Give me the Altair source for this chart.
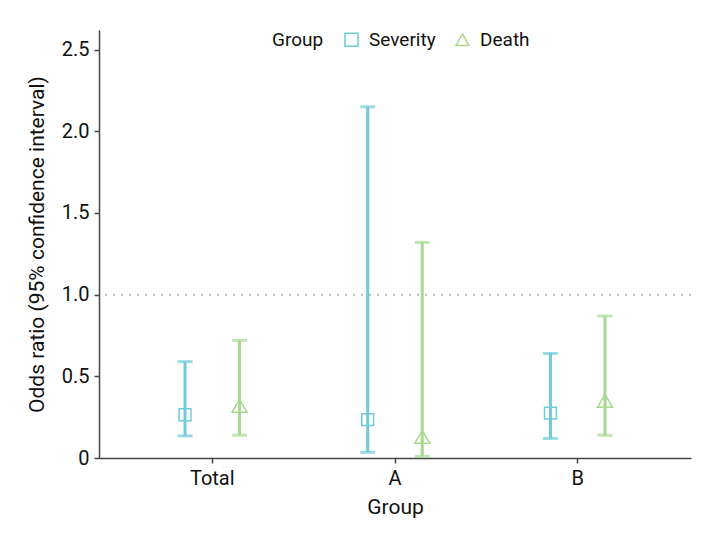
import altair as alt
import pandas as pd

categories = ["Total", "Total", "A", "A", "B", "B"]
groups = ["Severity", "Death", "Severity", "Death", "Severity", "Death"]
odds = [0.265, 0.32, 0.235, 0.13, 0.275, 0.35]
lower = [0.135, 0.14, 0.035, 0.01, 0.12, 0.14]
upper = [0.59, 0.72, 2.15, 1.32, 0.64, 0.87]

df = pd.DataFrame({"cat": categories, "Group": groups, "or": odds, "lo": lower, "hi": upper})
ref = pd.DataFrame({"v": [1.0]})

FONT = "Roboto"
colors = ["#6FCBD6", "#A8D98F"]
order = ["Severity", "Death"]

x = alt.X("cat:N", sort=["Total", "A", "B"], title="Group",
          scale=alt.Scale(paddingInner=0.2, paddingOuter=0.22),
          axis=alt.Axis(labelAngle=0))
xo = alt.XOffset("Group:N", sort=order, scale=alt.Scale(paddingInner=0, paddingOuter=0.34))
legend = alt.Legend(orient="none", legendX=173, legendY=0, direction="horizontal",
                    titleOrient="left", title="Group", symbolStrokeWidth=1.5,
                    symbolSize=170, symbolFillColor="transparent", labelFontSize=19, titleFontSize=19,
                    titleFontWeight="normal", labelFont=FONT, titleFont=FONT,
                    columnPadding=16, titlePadding=18, labelOffset=8, labelColor="#111", titleColor="#111")
cscale = alt.Scale(domain=order, range=colors)
col = alt.Color("Group:N", sort=order, scale=cscale, legend=legend)
col_nl = alt.Color("Group:N", sort=order, scale=cscale, legend=None)
shp = alt.Shape("Group:N", sort=order, scale=alt.Scale(domain=order, range=["square", "triangle-up"]), legend=legend)
sz = alt.Size("Group:N", sort=order, scale=alt.Scale(domain=order, range=[140, 225]), legend=None)
yscale = alt.Scale(domain=[0, 2.62], nice=False, zero=True)

base = alt.Chart(df)

rules = base.mark_rule(strokeWidth=3).encode(
    x=x, xOffset=xo,
    y=alt.Y("lo:Q", scale=yscale, title="Odds ratio (95% confidence interval)",
            axis=alt.Axis(values=[0, 0.5, 1.0, 1.5, 2.0, 2.5],
                          labelExpr="datum.value == 0 ? '0' : format(datum.value, '.1f')")),
    y2="hi:Q", color=col_nl)

cap_lo = base.mark_tick(thickness=3, size=15).encode(x=x, xOffset=xo, y=alt.Y("lo:Q", scale=yscale), color=col_nl)
cap_hi = base.mark_tick(thickness=3, size=15).encode(x=x, xOffset=xo, y=alt.Y("hi:Q", scale=yscale), color=col_nl)

pts = base.mark_point(filled=False, strokeWidth=1.5, opacity=1).encode(
    x=x, xOffset=xo, y=alt.Y("or:Q", scale=yscale), color=col, shape=shp, size=sz)

refline = alt.Chart(ref).mark_rule(color="#bbbbbb", strokeWidth=2, strokeDash=[2, 6]).encode(
    y=alt.Y("v:Q", scale=yscale))

chart = alt.layer(refline, rules, cap_lo, cap_hi, pts).resolve_legend(
    color="independent", shape="independent"
).properties(
    width=592, height=428, padding={"left": 18, "top": 22, "right": 20, "bottom": 5}
).configure_view(stroke=None).configure_axis(
    grid=False, domainColor="#444", tickColor="#444", domainWidth=1.5, tickWidth=1.5, tickSize=5,
    labelFont=FONT, titleFont=FONT, labelFontSize=20, titleFontSize=21, labelColor="#111",
    titleColor="#111", titleFontWeight="normal", labelPadding=5
).configure_axisY(titlePadding=14).configure_axisX(titlePadding=8)

chart.save("out.html", embed_options={"renderer": "svg", "actions": False})
